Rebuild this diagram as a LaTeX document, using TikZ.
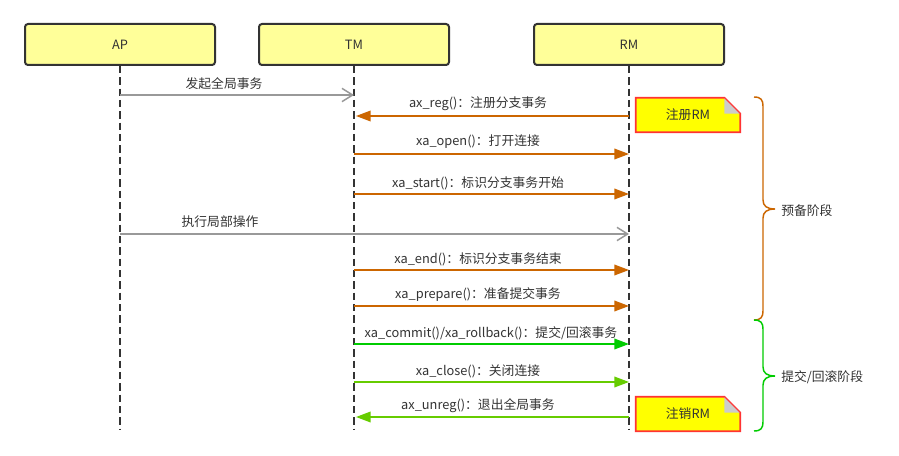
\documentclass[tikz,border=0pt]{standalone}
\usepackage{fontspec}
\setmainfont{Noto Sans CJK SC}
\usetikzlibrary{arrows.meta}
\definecolor{txt}{HTML}{333333}
\definecolor{boxfill}{HTML}{FFFF99}
\definecolor{msggray}{HTML}{999999}
\definecolor{orangec}{HTML}{CC6600}
\definecolor{greenA}{HTML}{00CC00}
\definecolor{greenB}{HTML}{66CC00}
\definecolor{notefill}{HTML}{FFFF00}
\definecolor{noteline}{HTML}{FF3333}
\definecolor{foldgray}{HTML}{CCCCCC}
\begin{document}
\begin{tikzpicture}[x=0.75pt,y=-0.75pt,
  font=\fontsize{9.6}{11.5}\selectfont,
  actor/.style={draw=txt, fill=boxfill, line width=1.5pt, rounded corners=2.25pt,
    minimum width=142.5pt, minimum height=30.75pt, inner sep=0pt, text=txt},
  lifeline/.style={draw=txt, line width=1.1pt, dash pattern=on 5.5pt off 3pt},
  openmsg/.style={draw=msggray, line width=1.1pt,
    -{Straight Barb[length=8pt,width=10pt,line width=1.1pt]}},
  fillmsg/.style={draw=#1, line width=1.1pt, -{Triangle[length=11pt,width=8pt]}},
  lbl/.style={text=txt, inner sep=0pt},
  notebox/.style={minimum width=78pt, minimum height=25.5pt, inner sep=0pt, text=txt},
  notepath/.style={draw=noteline, fill=notefill, line width=1.3pt},
  brace/.style={draw=#1, line width=1.1pt}
]
\useasboundingbox[fill=white] (0,0) rectangle (899,456);

% actors
\node[actor] (ap) at (120,44.5) {AP};
\node[actor] (tm) at (354,44.5) {TM};
\node[actor] (rm) at (629,44.5) {RM};

% lifeline ends
\coordinate (apend) at (120,430);
\coordinate (tmend) at (354,430);
\coordinate (rmend) at (629,430);
\draw[lifeline] (ap.south) -- (apend);
\draw[lifeline] (tm.south) -- (tmend);
\draw[lifeline] (rm.south) -- (rmend);

% message end points
\coordinate (ap1) at (120,95);  \coordinate (tm1) at (354,95);
\coordinate (rm2) at (629,116); \coordinate (tm2) at (356,116);
\coordinate (tm3) at (354,154); \coordinate (rm3) at (629,154);
\coordinate (tm4) at (354,194); \coordinate (rm4) at (629,194);
\coordinate (ap5) at (120,234); \coordinate (rm5) at (629,234);
\coordinate (tm6) at (354,270); \coordinate (rm6) at (629,270);
\coordinate (tm7) at (354,306); \coordinate (rm7) at (629,306);
\coordinate (tm8) at (354,344); \coordinate (rm8) at (629,344);
\coordinate (tm9) at (354,382); \coordinate (rm9) at (629,382);
\coordinate (rm10) at (629,417); \coordinate (tm10) at (356,417);

% messages
\draw[openmsg] (ap1) -- (tm1);
\node[lbl] (l1) at (224,84) {发起全局事务};
\draw[fillmsg=orangec] (rm2) -- (tm2);
\node[lbl] (l2) at (478,104) {ax\_reg()：注册分支事务};
\draw[fillmsg=orangec] (tm3) -- (rm3);
\node[lbl] (l3) at (478,142) {xa\_open()：打开连接};
\draw[fillmsg=orangec] (tm4) -- (rm4);
\node[lbl] (l4) at (478,183) {xa\_start()：标识分支事务开始};
\draw[openmsg] (ap5) -- (rm5);
\node[lbl] (l5) at (220,222) {执行局部操作};
\draw[fillmsg=orangec] (tm6) -- (rm6);
\node[lbl] (l6) at (478,259) {xa\_end()：标识分支事务结束};
\draw[fillmsg=orangec] (tm7) -- (rm7);
\node[lbl] (l7) at (478,295) {xa\_prepare()：准备提交事务};
\draw[fillmsg=greenA] (tm8) -- (rm8);
\node[lbl] (l8) at (491,333) {xa\_commit()/xa\_rollback()：提交/回滚事务};
\draw[fillmsg=greenB] (tm9) -- (rm9);
\node[lbl] (l9) at (478,371) {xa\_close()：关闭连接};
\draw[fillmsg=greenB] (rm10) -- (tm10);
\node[lbl] (l10) at (478,406) {ax\_unreg()：退出全局事务};

% notes
\node[notebox] (n1) at (688,115) {};
\draw[notepath] (n1.north west) -- ([xshift=-12pt]n1.north east) -- ([yshift=-12pt]n1.north east) -- (n1.south east) -- (n1.south west) -- cycle;
\fill[foldgray] ([xshift=-12pt]n1.north east) -- ([xshift=-12pt,yshift=-12pt]n1.north east) -- ([yshift=-12pt]n1.north east) -- cycle;
\draw[noteline, line width=0.5pt] ([xshift=-12pt]n1.north east) -- ([yshift=-12pt]n1.north east);
\node[lbl] at (n1) {注册RM};

\node[notebox] (n2) at (688,414) {};
\draw[notepath] (n2.north west) -- ([xshift=-12pt]n2.north east) -- ([yshift=-12pt]n2.north east) -- (n2.south east) -- (n2.south west) -- cycle;
\fill[foldgray] ([xshift=-12pt]n2.north east) -- ([xshift=-12pt,yshift=-12pt]n2.north east) -- ([yshift=-12pt]n2.north east) -- cycle;
\draw[noteline, line width=0.5pt] ([xshift=-12pt]n2.north east) -- ([yshift=-12pt]n2.north east);
\node[lbl] at (n2) {注销RM};

% braces
\draw[brace=orangec] (754,97) .. controls (761,97) and (763,100) .. (763,106) -- (763,200)
  .. controls (763,206) and (767,209) .. (775,209)
  .. controls (767,209) and (763,212) .. (763,218) -- (763,311)
  .. controls (763,317) and (761,320) .. (754,320);
\node[lbl, anchor=west] (b1) at (781,211) {预备阶段};
\draw[brace=greenA] (754,320) .. controls (761,320) and (763,323) .. (763,329) -- (763,367)
  .. controls (763,373) and (767,376) .. (775,376)
  .. controls (767,376) and (763,379) .. (763,385) -- (763,422)
  .. controls (763,428) and (761,431) .. (754,431);
\node[lbl, anchor=west] (b2) at (781,377) {提交/回滚阶段};
\end{tikzpicture}
\end{document}
